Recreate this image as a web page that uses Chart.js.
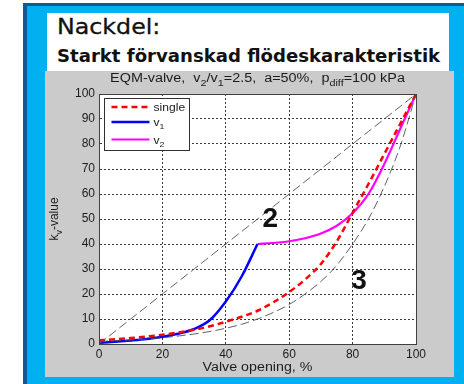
<!DOCTYPE html>
<html>
<head>
<meta charset="utf-8">
<script src="https://cdn.jsdelivr.net/npm/chart.js@4/dist/chart.umd.min.js"></script>
<style>
  html, body { margin: 0; padding: 0; background: #fff; width: 464px; height: 384px; overflow: hidden; position: relative; }
  #frame { position: absolute; left: 23px; top: 3px; width: 460px; height: 400px; background: #00B0F0;
           border-left: 4px solid #0F5A96; border-top: 3px solid #0F5A96; }
  #heading { position: absolute; left: 47px; top: 13px; width: 402px; height: 58px; background: #fff; }
  .h { position: absolute; left: 10px; line-height: 1; color: #111; white-space: nowrap; font-family: "DejaVu Sans", sans-serif; transform-origin: 0 0; }
  #h1 { top: 4px; font-size: 21px; transform: scaleX(1.13); -webkit-text-stroke: 0.3px #111; }
  #h2 { top: 34px; font-size: 18.1px; font-weight: bold; }
  #panel { position: absolute; left: 45px; top: 71px; width: 409px; height: 306px; background: #CBCBCB; }
</style>
</head>
<body>
<div id="frame"></div>
<div id="heading">
  <div class="h" id="h1">Nackdel:</div>
  <div class="h" id="h2">Starkt förvanskad flödeskarakteristik</div>
</div>
<div id="panel"><canvas id="c"></canvas></div>
<script>
// Valve opening (%) sampling for the reference characteristics
const opening = [0, 5, 10, 15, 20, 25, 30, 35, 40, 45, 50, 55, 60, 65, 70, 75, 80, 85, 90, 95, 100];
// Linear characteristic
const linearKv = [0, 5, 10, 15, 20, 25, 30, 35, 40, 45, 50, 55, 60, 65, 70, 75, 80, 85, 90, 95, 100];
// Equal-percentage characteristic
const equalPctKv = [1.0, 1.3, 1.6, 2.0, 2.5, 3.2, 4.0, 5.0, 6.3, 7.9, 10.0, 12.6, 15.8, 20.0, 25.0, 31.5, 40.0, 50.0, 63.0, 79.0, 100];
// Single valve
const singleKv = [1.5, 1.9, 2.4, 3.0, 3.7, 4.6, 5.7, 7.1, 8.9, 10.9, 13.3, 16.7, 20.8, 25.8, 32.0, 41.0, 52.5, 64.0, 76.0, 88.0, 100];
// Small valve v1 (0-50 %)
const v1Opening = [0, 5, 10, 15, 20, 25, 30, 35, 40, 45, 50];
const v1Kv = [0.5, 0.9, 1.4, 2.0, 2.9, 4.1, 6.0, 9.6, 17.0, 27.0, 40.0];
// Large valve v2 (50-100 %)
const v2Opening = [50, 55, 60, 65, 70, 75, 80, 85, 90, 95, 100];
const v2Kv = [40.0, 40.4, 41.1, 42.3, 44.2, 47.3, 52.3, 60.0, 72.0, 86.0, 100];

const xTicks = [0, 20, 40, 60, 80, 100];
const yTicks = [0, 10, 20, 30, 40, 50, 60, 70, 80, 90, 100];

// Marker labels placed in data coordinates
const markers = [
  { text: '2', x: 54, y: 50 },
  { text: '3', x: 82, y: 25 }
];

const pts = (xs, ys) => xs.map((x, i) => ({ x: x, y: ys[i] }));

const FONT = '"Liberation Sans", Arial, sans-serif';
const INK = '#1c1c1c';

// Draws text with subscript parts, parts = [[text, isSub], ...], optionally widened by sx
function drawRich(ctx, parts, x, y, align, size, sx) {
  sx = sx || 1;
  const mainF = size + 'px ' + FONT;
  const subF = Math.round(size * 0.72) + 'px ' + FONT;
  let total = 0;
  const widths = parts.map(p => { ctx.font = p[1] ? subF : mainF; const w = ctx.measureText(p[0]).width; total += w; return w; });
  ctx.save();
  ctx.translate(x, y);
  ctx.scale(sx, 1);
  let cx = align === 'center' ? -total / 2 : 0;
  ctx.textAlign = 'left';
  ctx.textBaseline = 'alphabetic';
  parts.forEach((p, i) => {
    ctx.font = p[1] ? subF : mainF;
    ctx.fillText(p[0], cx, p[1] ? size * 0.3 : 0);
    cx += widths[i];
  });
  ctx.restore();
}

const decorations = {
  id: 'decorations',
  beforeDraw(chart) {
    const { ctx, chartArea: a } = chart;
    ctx.save();
    ctx.fillStyle = '#ffffff';
    ctx.fillRect(a.left, a.top, a.right - a.left, a.bottom - a.top);
    ctx.restore();
  },
  afterDraw(chart) {
    const { ctx, chartArea: a, scales } = chart;
    ctx.save();
    // axes box
    ctx.strokeStyle = '#404040';
    ctx.lineWidth = 1;
    ctx.setLineDash([]);
    ctx.strokeRect(Math.round(a.left) + 0.5, Math.round(a.top) + 0.5, Math.round(a.right - a.left), Math.round(a.bottom - a.top));

    ctx.fillStyle = INK;
    const cxMid = (a.left + a.right) / 2;
    // title
    drawRich(ctx, [['EQM-valve,  v', 0], ['2', 1], ['/v', 0], ['1', 1], ['=2.5,  a=50%,  p', 0], ['diff', 1], ['=100 kPa', 0]], cxMid, 11, 'center', 12, 1.2);
    // x axis title
    drawRich(ctx, [['Valve opening, %', 0]], cxMid, 300, 'center', 12.5, 1.14);
    // y axis title
    ctx.save();
    ctx.translate(13, (a.top + a.bottom) / 2);
    ctx.rotate(-Math.PI / 2);
    drawRich(ctx, [['k', 0], ['v', 1], ['-value', 0]], 0, 0, 'center', 12);
    ctx.restore();

    // big markers
    ctx.font = 'bold 28px ' + FONT;
    ctx.textAlign = 'center';
    ctx.textBaseline = 'middle';
    ctx.fillStyle = '#111';
    markers.forEach(m => ctx.fillText(m.text, scales.x.getPixelForValue(m.x), scales.y.getPixelForValue(m.y)));

    // legend
    const bx = Math.round(a.left) + 5.5, by = Math.round(a.top) + 4.5, bw = 85, bh = 52;
    ctx.fillStyle = '#fff';
    ctx.fillRect(bx, by, bw, bh);
    ctx.strokeStyle = '#303030';
    ctx.lineWidth = 1;
    ctx.strokeRect(bx, by, bw, bh);
    const entries = [
      { ds: chart.data.datasets[2], dy: 8.5, parts: [['single', 0]] },
      { ds: chart.data.datasets[3], dy: 23.5, parts: [['v', 0], ['1', 1]] },
      { ds: chart.data.datasets[4], dy: 41, parts: [['v', 0], ['2', 1]] }
    ];
    entries.forEach(e => {
      ctx.strokeStyle = e.ds.borderColor;
      ctx.lineWidth = e.ds.borderWidth;
      ctx.setLineDash(e.ds.borderDash || []);
      ctx.beginPath();
      ctx.moveTo(bx + 7, by + e.dy);
      ctx.lineTo(bx + 45, by + e.dy);
      ctx.stroke();
      ctx.setLineDash([]);
      ctx.fillStyle = INK;
      drawRich(ctx, e.parts, bx + 49, by + e.dy + 4, 'left', 11, 1.1);
    });
    ctx.restore();
  }
};

const tickFont = { family: FONT, size: 12 };

new Chart(document.getElementById('c'), {
  type: 'line',
  data: {
    datasets: [
      { data: pts(opening, linearKv), borderColor: '#505050', borderWidth: 0.9, borderDash: [9, 4], cubicInterpolationMode: 'monotone' },
      { data: pts(opening, equalPctKv), borderColor: '#505050', borderWidth: 0.9, borderDash: [9, 4], cubicInterpolationMode: 'monotone' },
      { label: 'single', data: pts(opening, singleKv), borderColor: '#ff0000', borderWidth: 2.5, borderDash: [6, 4], cubicInterpolationMode: 'monotone' },
      { label: 'v1', data: pts(v1Opening, v1Kv), borderColor: '#0000ff', borderWidth: 2.5, cubicInterpolationMode: 'monotone' },
      { label: 'v2', data: pts(v2Opening, v2Kv), borderColor: '#ff00ff', borderWidth: 2.2, cubicInterpolationMode: 'monotone' }
    ]
  },
  options: {
    responsive: true,
    maintainAspectRatio: false,
    animation: false,
    layout: { padding: { left: 0, top: 23, right: 38, bottom: 0 } },
    elements: { point: { radius: 0 } },
    plugins: { legend: { display: false }, tooltip: { enabled: false }, title: { display: false } },
    scales: {
      x: {
        type: 'linear', min: 0, max: 100,
        afterBuildTicks(s) { s.ticks = xTicks.map(v => ({ value: v })); },
        afterFit(s) { s.height = 33; },
        ticks: { padding: 3, color: INK, font: tickFont, maxRotation: 0 },
        grid: { color: '#3a3a3a', lineWidth: 1, drawTicks: false },
        border: { display: true, color: '#404040', width: 1, dash: [2, 2] }
      },
      y: {
        type: 'linear', min: 0, max: 100,
        afterBuildTicks(s) { s.ticks = yTicks.map(v => ({ value: v })); },
        afterFit(s) { s.width = 54; },
        ticks: { padding: 4, color: INK, font: tickFont },
        grid: { color: '#3a3a3a', lineWidth: 1, drawTicks: false },
        border: { display: true, color: '#404040', width: 1, dash: [2, 2] }
      }
    }
  },
  plugins: [decorations]
});
</script>
</body>
</html>
